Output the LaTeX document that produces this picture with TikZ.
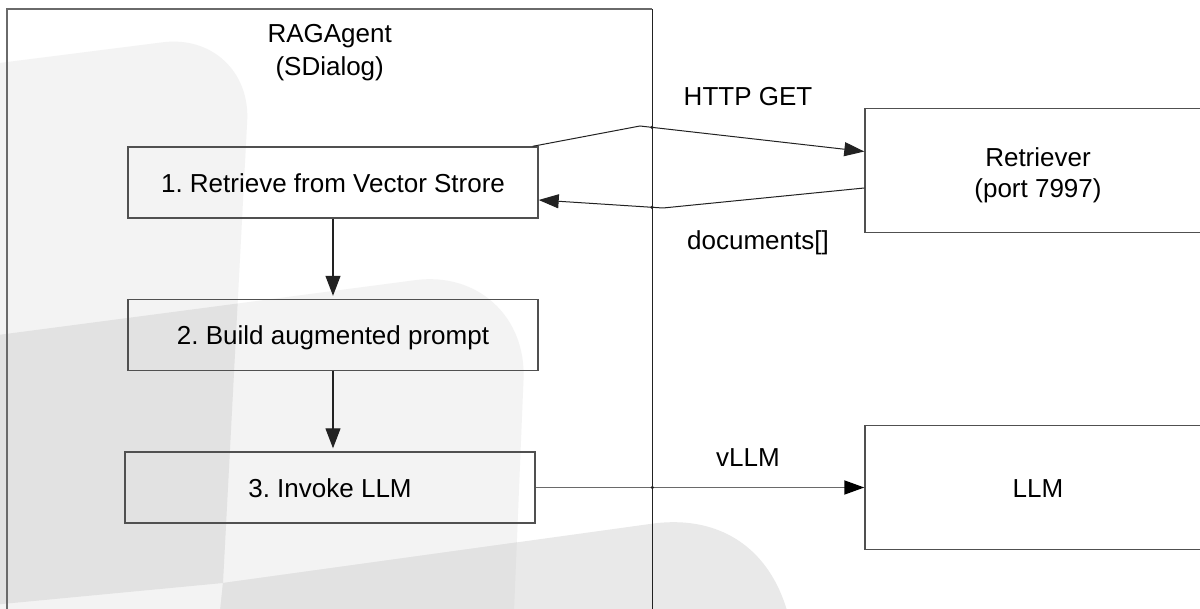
\documentclass[tikz,border=0pt]{standalone}
\usepackage{fontspec}
\setmainfont{Liberation Sans}
\usetikzlibrary{arrows.meta,calc}

\definecolor{wmlight}{HTML}{F3F3F3}
\definecolor{wmmid}{HTML}{E9E9E9}
\definecolor{wmdark}{HTML}{E2E2E2}
\definecolor{boxline}{HTML}{505050}
\definecolor{frameline}{HTML}{6A6A6A}
\definecolor{inkline}{HTML}{222222}

% Watermark outlines (x to the right, y downwards, 1 unit = 1pt)
\newcommand\wmShapeA{(-40,68) -- (162.7,42.3) .. controls (211.8,36.1) and (249.8,71.5) .. (247.2,120.9) -- (223,583) -- (-40,608) -- cycle}
\newcommand\wmShapeB{(-40,340) -- (415,280.2) .. controls (477.7,271.8) and (526.5,316.7) .. (523.5,379.9) -- (512,660) -- (-40,660) -- cycle}
\newcommand\wmShapeC{(215,660) -- (223,583) -- (650,524) .. controls (730,512) and (790,560) .. (795,660) -- cycle}

\begin{document}
\frenchspacing
\begin{tikzpicture}[x=1pt, y=-1pt,
  font=\fontsize{26pt}{33pt}\selectfont,
  stepbox/.style={draw=boxline, line width=1.4pt, minimum width=410pt,
    minimum height=71pt, inner sep=0pt, text height=20pt, text depth=0pt},
  svcbox/.style={draw=boxline, line width=1.4pt, minimum width=346pt,
    minimum height=124pt, inner sep=0pt},
  flowarrow/.style={draw=inkline, line width=1.2pt,
    -{Triangle[length=20pt,width=15pt]}, shorten >=3pt},
  msgarrow/.style={draw=inkline, line width=1pt,
    -{Triangle[length=20pt,width=14pt]}},
  callarrow/.style={draw=frameline, line width=1.8pt,
    -{Triangle[length=20pt,width=14pt,color=black]}},
  msglabel/.style={inner sep=0pt},
  joint/.style={fill=inkline}
]
\clip (0,0) rectangle (1200,609);
\fill[white] (0,0) rectangle (1200,609);

% Background watermark
\fill[wmlight] \wmShapeA;
\fill[wmlight] \wmShapeB;
\fill[wmmid] \wmShapeC;
\begin{scope}
  \clip \wmShapeA;
  \fill[wmdark] \wmShapeB;
\end{scope}
\begin{scope}
  \clip \wmShapeC;
  \fill[wmdark] \wmShapeB;
\end{scope}

% Agent container: grey frame on top and left, thin dark boundary on the right
\node[minimum width=645pt, minimum height=660pt, anchor=north west,
  inner sep=0pt] (agent) at (7,9) {};
\draw[frameline, line width=2pt] (agent.north east) -- (agent.north west) -- (agent.south west);
\draw[inkline, line width=1pt] (agent.north east) -- (agent.south east);
\node[align=center] (agenttitle) at ($(agent.north)+(0,44)$) {RAGAgent\\(SDialog)};

% Steps inside the agent
\node[stepbox] (retrieve) at (333,182.5) {1. Retrieve from Vector Strore};
\node[stepbox] (build) at (333,335) {2. Build augmented prompt};
\node[stepbox] (invoke) at (330,487.5) {3. Invoke LLM};

% External services
\node[svcbox] (retriever) at (1038,170.5) {};
\node[align=center, font=\fontsize{26pt}{31pt}\selectfont] (retrievertext)
  at ($(retriever.center)+(0,4.75)$) {Retriever\\(port 7997)};
\node[svcbox, text height=20pt, text depth=0pt] (llm) at (1038,487.5) {LLM};

% Internal flow
\draw[flowarrow] (retrieve.south) -- (build.north);
\draw[flowarrow] (build.south) -- (build.south |- invoke.north);

% Retrieval request and response
\coordinate (httpstart) at ($(retrieve.north east)+(-6,0)$);
\coordinate (httpbend) at (640,126);
\draw[msgarrow] (httpstart) -- (httpbend) -- ($(retriever.west)+(0,-19)$);
\coordinate (docbend) at (663,208);
\draw[msgarrow] ($(retriever.west)+(0,17.5)$) -- (docbend) -- ($(retrieve.east)+(0,17.5)$);

% Model call
\draw[callarrow] (invoke.east) -- (llm.west);

% Crossing marks on the agent boundary
\fill[joint] (652,127.4) circle (1.8);
\fill[joint] (652,207.3) circle (1.8);
\fill[joint] (agent.east |- invoke.east) circle (1.8);

% Message labels
\node[msglabel] (httplabel) at (748,97) {HTTP GET};
\node[msglabel] (doclabel) at (758,243) {documents[]};
\node[msglabel] (vllmlabel) at (748,457.5) {vLLM};
\end{tikzpicture}
\end{document}
